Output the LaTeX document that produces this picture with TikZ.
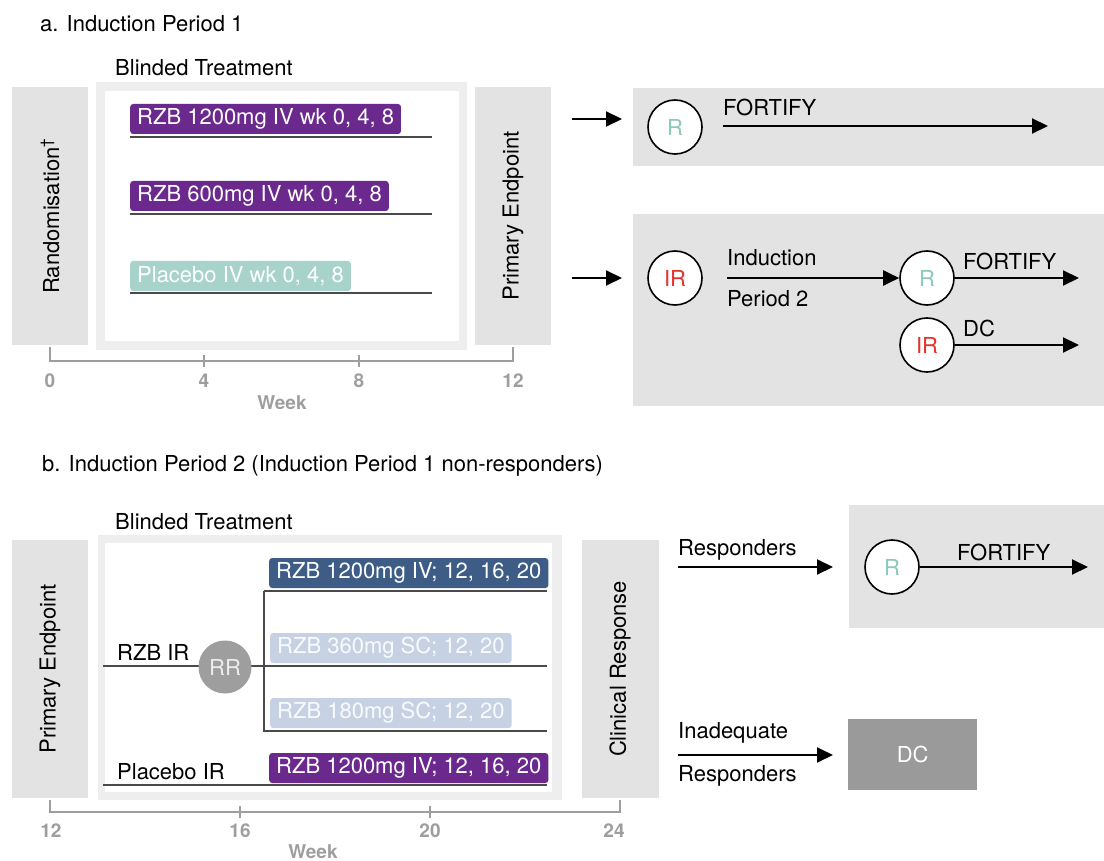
\documentclass[tikz,border=0pt]{standalone}
\usepackage{fontspec}
\setmainfont{TeX Gyre Heros}
\usetikzlibrary{arrows.meta, positioning, calc}
\definecolor{rzbpurple}{HTML}{6B288D}
\definecolor{rzbteal}{HTML}{A7D3CB}
\definecolor{rzbblue}{HTML}{3E5D86}
\definecolor{rzbpale}{HTML}{C6D2E3}
\definecolor{panelgrey}{HTML}{E3E3E3}
\definecolor{blindgrey}{HTML}{EEEEEE}
\definecolor{axisgrey}{HTML}{9E9E9E}
\definecolor{dcgrey}{HTML}{9A9A9A}
\definecolor{rgreen}{HTML}{8CC8BB}
\definecolor{irred}{HTML}{E5332A}
\definecolor{linegrey}{HTML}{4A4A4A}

\begin{document}
\begin{tikzpicture}[x=1pt, y=-1pt,
  every node/.style={font=\fontsize{22}{26}\selectfont, inner sep=0pt},
  sidebox/.style={fill=panelgrey, rotate=90, minimum width=258, minimum height=76},
  panel/.style={fill=panelgrey, anchor=north west},
  dosebar/.style={rounded corners=3pt, text=white, inner xsep=7pt, minimum height=30, anchor=west},
  ring/.style={circle, draw, line width=1.6pt, fill=white, minimum size=54},
  arrow/.style={-{Triangle[length=16pt, width=15pt]}, line width=2pt},
  tline/.style={draw=linegrey, line width=1.3pt},
  axis/.style={draw=axisgrey, line width=1.2pt},
  weeklbl/.style={text=axisgrey, font=\fontsize{19}{22}\selectfont\bfseries}]
\useasboundingbox (0,0) rectangle (1104,861);

% a. Induction Period 1
\node[anchor=west] (titleA) at (40,24) {a. Induction Period 1};
\node[anchor=west] (blindlblA) at (115,68) {Blinded Treatment};
\node[sidebox] (rand) at (50,216) {Randomisation\textsuperscript{†}};
\node[panel, fill=blindgrey, minimum width=371, minimum height=268] (blindA) at (96,82) {};
\node[panel, fill=white, minimum width=354, minimum height=250] (whiteA) at (105,91) {};
\node[sidebox] (pendA) at (513,216) {Primary Endpoint};

\node[dosebar, fill=rzbpurple] (rzb1200) at (130,119) {RZB 1200mg IV wk 0, 4, 8};
\node[dosebar, fill=rzbpurple] (rzb600) at (130,196) {RZB 600mg IV wk 0, 4, 8};
\node[dosebar, fill=rzbteal] (pbo) at (130,276) {Placebo IV wk 0, 4, 8};
\foreach \y in {137, 214, 293}
  \draw[tline] (130,\y) -- (432,\y);

\draw[axis] (50,347) -- (50,361) -- (513,361) -- (513,347);
\foreach \x in {204, 359}
  \draw[axis] (\x,355) -- (\x,367);
\foreach \x/\w in {50/0, 204/4, 359/8, 513/12}
  \node[weeklbl] at (\x,381) {\w};
\node[weeklbl] (weekA) at (282,403) {Week};

% outcomes after period 1
\node[panel, minimum width=471, minimum height=78] (fortA) at (633,88) {};
\node[panel, minimum width=471, minimum height=192] (irA) at (633,214) {};
\coordinate (inA) at (572,119);
\coordinate (inB) at (572,278);
\draw[arrow, shorten >=11pt] (inA) -- (inA -| fortA.west);
\draw[arrow, shorten >=11pt] (inB) -- (inB -| irA.west);

\node[ring] (rA) at (675,127) {\color{rgreen}R};
\node[anchor=west] (fortlblA) at (723,107) {FORTIFY};
\coordinate (fortstartA) at (723,126);
\coordinate (fortendA) at (1048,126);
\draw[arrow] (fortstartA) -- (fortendA);

\node[ring] (irA1) at (675,278) {\color{irred}IR};
\node[ring] (rA2) at (927,278) {\color{rgreen}R};
\node[ring] (irA2) at (927,345) {\color{irred}IR};
\coordinate (indstart) at (727,278);
\draw[arrow] (indstart) -- (rA2);
\node[anchor=west] (indlbl) at (727,258) {Induction};
\node[anchor=west] (perlbl) at (727,299) {Period 2};
\coordinate (fortendB) at (1079,278);
\draw[arrow] (rA2) -- (fortendB);
\node[anchor=west] (fortlblB) at (963,261) {FORTIFY};
\coordinate (dcend) at (1079,345);
\draw[arrow] (irA2) -- (dcend);
\node[anchor=west] (dclblA) at (963,328) {DC};

% b. Induction Period 2
\node[anchor=west] (titleB) at (42,466) {b. Induction Period 2 (Induction Period 1 non-responders)};
\node[anchor=west] (blindlblB) at (115,522) {Blinded Treatment};
\node[sidebox] (pendB) at (50,669) {Primary Endpoint};
\node[panel, fill=blindgrey, minimum width=464, minimum height=265] (blindB) at (98,535) {};
\node[panel, fill=white, minimum width=447, minimum height=249] (whiteB) at (105,543) {};
\node[sidebox, minimum height=77] (crB) at (620,669) {Clinical Response};

\draw[tline] (103,666) -- (547,666);
\draw[tline] (264,591) -- (547,591);
\draw[tline] (264,591) -- (264,731) -- (547,731);
\draw[tline] (103,785) -- (547,785);
\node[dosebar, fill=rzbblue] (iv1200) at (269,573) {RZB 1200mg IV; 12, 16, 20};
\node[dosebar, fill=rzbpale, text=white!90!rzbpale] (sc360) at (270,648) {RZB 360mg SC; 12, 20};
\node[dosebar, fill=rzbpale, text=white!90!rzbpale] (sc180) at (270,713) {RZB 180mg SC; 12, 20};
\node[dosebar, fill=rzbpurple] (pbo1200) at (269,768) {RZB 1200mg IV; 12, 16, 20};
\node[circle, fill=axisgrey, minimum size=53, text=white!80!axisgrey] (rr) at (225,667) {RR};
\node[anchor=west] (rzbir) at (117,652) {RZB IR};
\node[anchor=west] (pboir) at (117,772) {Placebo IR};

\draw[axis] (50,800) -- (50,812) -- (620,812) -- (620,800);
\foreach \x in {240, 430}
  \draw[axis] (\x,806) -- (\x,818);
\foreach \x/\w in {51/12, 240/16, 430/20, 614/24}
  \node[weeklbl] at (\x,831) {\w};
\node[weeklbl] (weekB) at (313,852) {Week};

% outcomes after period 2
\node[panel, minimum width=255, minimum height=123] (fortB) at (849,505) {};
\coordinate (respstart) at (678,567);
\draw[arrow, shorten >=16pt] (respstart) -- (respstart -| fortB.west);
\node[anchor=west] (resplbl) at (678,550) {Responders};
\node[ring] (rB) at (892,567) {\color{rgreen}R};
\coordinate (fortendC) at (1088,567);
\draw[arrow] (rB) -- (fortendC);
\node[anchor=west] (fortlblC) at (957,552) {FORTIFY};

\node[fill=dcgrey, text=white, minimum width=129, minimum height=71, anchor=north west] (dcB) at (848,719) {DC};
\coordinate (inadstart) at (678,755);
\draw[arrow, shorten >=15pt] (inadstart) -- (inadstart -| dcB.west);
\node[anchor=west] (inadlbl) at (678,733) {Inadequate};
\node[anchor=west] (inadlbl2) at (678,776) {Responders};
\end{tikzpicture}
\end{document}
